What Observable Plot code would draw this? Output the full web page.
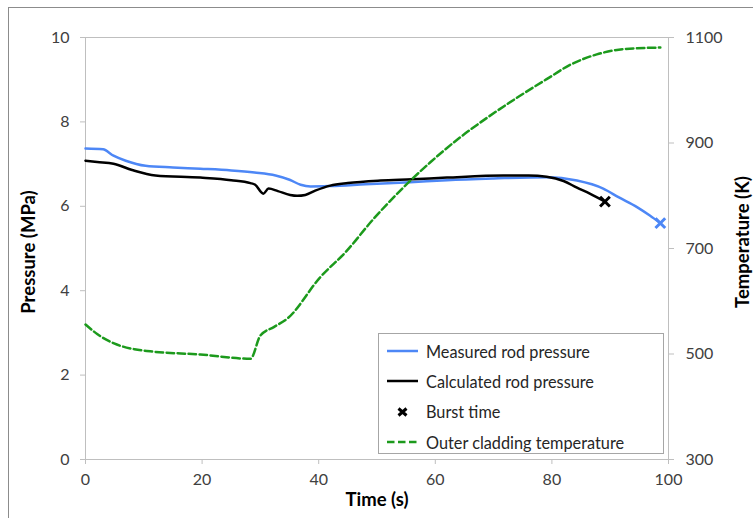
<!DOCTYPE html>
<html><head><meta charset="utf-8">
<script src="https://cdn.jsdelivr.net/npm/d3@7"></script>
<script src="https://cdn.jsdelivr.net/npm/@observablehq/plot@0.6"></script>
<style>
body{margin:0;background:#fff;}
#wrap{position:relative;width:753px;height:518px;overflow:hidden;font-family:Lato,sans-serif;}
#wrap svg{position:absolute;left:0;top:0;}
#frame{position:absolute;left:8px;top:7px;width:800px;height:600px;border-left:1px solid #8c8c8c;border-top:1px solid #8c8c8c;}
#legend{position:absolute;left:378px;top:333px;width:286px;height:121px;border:1px solid #a6a6a6;background:#fff;box-sizing:border-box;}
.row{position:absolute;left:0;height:30px;display:flex;align-items:center;font-size:16.3px;color:#262626;white-space:nowrap;}
.row svg{position:static !important;margin-left:8px;margin-right:8px;}
</style>
</head><body>
<div id="wrap"><div id="frame"></div><div id="chart"></div><div id="legend"></div></div>
<script>
// Measured rod pressure (MPa)
const timeMeasured = [0,3,4.8,6.9,10.3,15,19.7,25,29,32.6,35,36.9,38.6,42,48,55.7,62,70,79.1,84.3,88.8,91.5,94.6,96.8,98.6];
const measured     = [7.37,7.35,7.2,7.08,6.96,6.92,6.89,6.85,6.8,6.73,6.63,6.51,6.47,6.48,6.52,6.57,6.62,6.66,6.69,6.61,6.42,6.21,5.98,5.78,5.6];
// Calculated rod pressure (MPa)
const timeCalc = [0,2,4.8,8,12,19.7,25,28.3,29.1,30.5,31.4,33,35.1,36.3,37.7,39.4,42,45,50.6,56,62,71.7,76,79.1,82,84.3,86.5,89.1];
const calc     = [7.08,7.05,7.01,6.86,6.73,6.68,6.62,6.55,6.51,6.30,6.42,6.36,6.27,6.25,6.27,6.37,6.49,6.55,6.61,6.64,6.68,6.73,6.73,6.70,6.6,6.44,6.3,6.11];
// Burst time markers
const burstTime = [89.1];
const burstPressure = [6.11];
const measuredEndTime = [98.6];
const measuredEndPressure = [5.6];
// Outer cladding temperature (K)
const timeTemp = [0,2,4.9,8.4,11.1,19.7,28.3,30,32.3,34.6,40.3,44.6,49.4,55.1,59.1,64.3,68.9,74.6,79.1,83.1,87.7,92.3,98.6];
const temp     = [556,538,520,509,505,499,491,535,551,567,646,693,756,822,863,911,948,990,1021,1048,1068,1078,1081];
// Ticks
const xTicks = [0,20,40,60,80,100];
const pTicks = [0,2,4,6,8,10];
const tTicks = [300,500,700,900,1100];

const tMin = 300, tMax = 1100, pMax = 10;
const tempToP = T => (T - tMin) / (tMax - tMin) * pMax;

const zip = (a, b) => a.map((t, i) => ({t, v: b[i]}));
const measuredRows = zip(timeMeasured, measured);
const calcRows = zip(timeCalc, calc);
const burstRows = zip(burstTime, burstPressure);
const endRows = zip(measuredEndTime, measuredEndPressure);
const tempRows = zip(timeTemp, temp);

const blue = "#4d87f6", green = "#1c9a1c", axisGray = "#bfbfbf", labelGray = "#404040";

const chart = Plot.plot({
  width: 753, height: 518,
  marginLeft: 85, marginRight: 85, marginTop: 37, marginBottom: 59,
  x: {domain: [0, 100]},
  y: {domain: [0, 10]},
  style: {fontFamily: "Lato, sans-serif", fontSize: "16px", color: labelGray, background: "transparent"},
  marks: [
    Plot.ruleY([10], {stroke: axisGray}),
    Plot.ruleY([0], {stroke: axisGray}),
    Plot.ruleX([0], {stroke: axisGray}),
    Plot.ruleX([100], {stroke: axisGray}),
    Plot.axisX({ticks: xTicks, tickSize: 5, tickPadding: 9, stroke: axisGray, fill: labelGray, label: null}),
    Plot.axisY({ticks: pTicks, tickSize: 5, tickPadding: 11, stroke: axisGray, fill: labelGray, label: null}),
    Plot.axisY({anchor: "right", ticks: tTicks.map(tempToP), tickFormat: d => String(Math.round(d / pMax * (tMax - tMin) + tMin)),
      tickSize: 5, tickPadding: 12, stroke: axisGray, fill: labelGray, label: null}),
    Plot.text(["Time (s)"], {frameAnchor: "bottom", dy: 46, fontWeight: "bold", fill: "#000", fontSize: 18.5}),
    Plot.text(["Pressure (MPa)"], {frameAnchor: "left", textAnchor: "middle", dx: -56, dy: 3.5, rotate: -90, fontWeight: "bold", fill: "#000", fontSize: 18.5}),
    Plot.text(["Temperature (K)"], {frameAnchor: "right", textAnchor: "middle", dx: 75, dy: -6.5, rotate: -90, fontWeight: "bold", fill: "#000", fontSize: 18.5}),
    Plot.line(measuredRows, {x: "t", y: "v", stroke: blue, strokeWidth: 2.5, curve: "monotone-x"}),
    Plot.line(calcRows, {x: "t", y: "v", stroke: "#000", strokeWidth: 2.5, curve: "monotone-x"}),
    Plot.dot(endRows, {x: "t", y: "v", symbol: "times", r: 4.5, stroke: blue, strokeWidth: 3}),
    Plot.dot(burstRows, {x: "t", y: "v", symbol: "times", r: 4.5, stroke: "#000", strokeWidth: 3}),
    Plot.line(tempRows, {x: "t", y: d => tempToP(d.v), stroke: green, strokeWidth: 2.5, strokeDasharray: "7.5,3.5", curve: "monotone-x"})
  ]
});
document.getElementById("chart").appendChild(chart);

// Legend
const legendItems = [
  {label: "Measured rod pressure", kind: "line", color: blue},
  {label: "Calculated rod pressure", kind: "line", color: "#000"},
  {label: "Burst time", kind: "x", color: "#000"},
  {label: "Outer cladding temperature", kind: "dash", color: green}
];
const leg = document.getElementById("legend");
legendItems.forEach((it, i) => {
  const row = document.createElement("div");
  row.className = "row";
  row.style.top = (2 + i * 30.4) + "px";
  let sw;
  if (it.kind === "line") sw = `<line x1="0" x2="31" y1="8" y2="8" stroke="${it.color}" stroke-width="2.5"/>`;
  else if (it.kind === "dash") sw = `<line x1="0" x2="31" y1="8" y2="8" stroke="${it.color}" stroke-width="2.5" stroke-dasharray="7.5,3.5"/>`;
  else sw = `<path d="M11.5,4.5L19.5,11.5M19.5,4.5L11.5,11.5" stroke="${it.color}" stroke-width="3"/>`;
  row.innerHTML = `<svg width="31" height="16">${sw}</svg><span>${it.label}</span>`;
  leg.appendChild(row);
});
</script>
</body></html>
